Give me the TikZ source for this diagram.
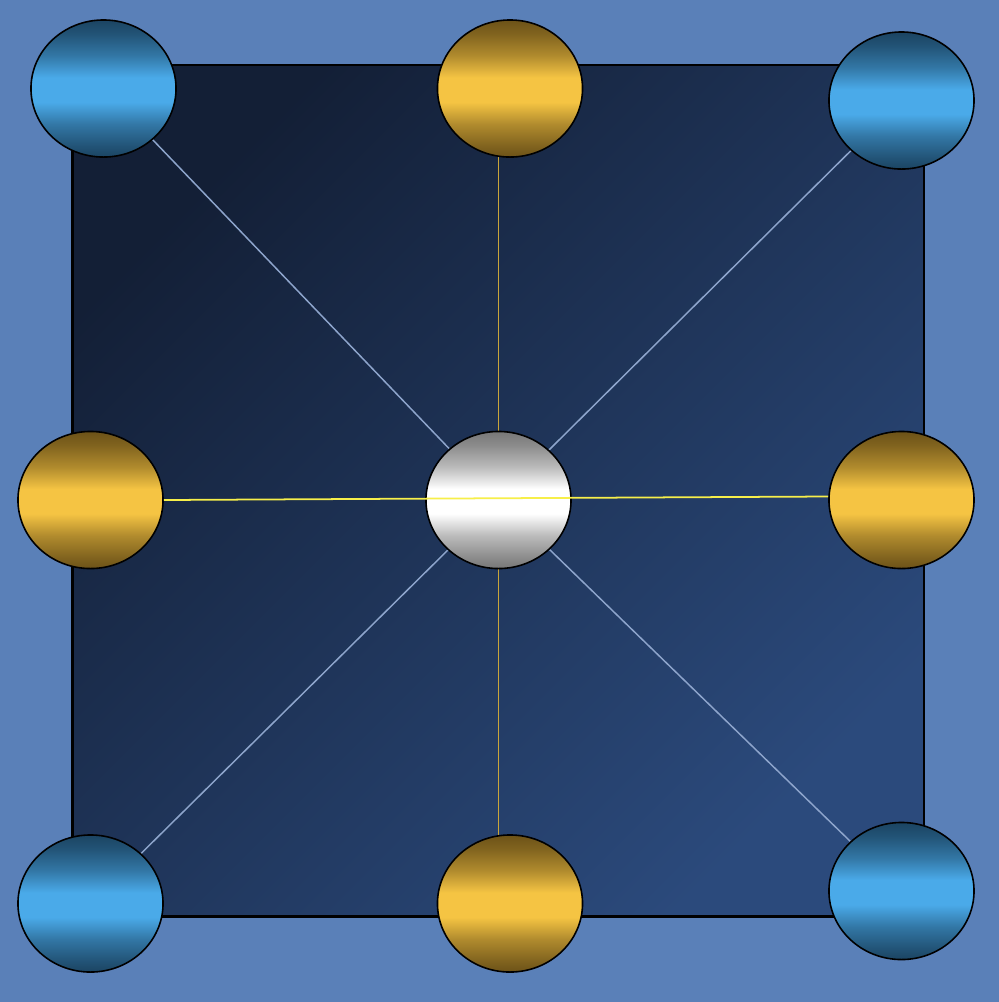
\documentclass[tikz,border=0pt]{standalone}
\usetikzlibrary{shapes.geometric}
\definecolor{bg}{HTML}{5A80B8}
\definecolor{sqdark}{HTML}{131F36}
\definecolor{sqlight}{HTML}{2B4A7C}
\definecolor{bldark}{HTML}{1B4462}
\definecolor{bllight}{HTML}{4AAAE9}
\definecolor{gddark}{HTML}{6C5218}
\definecolor{gdlight}{HTML}{F5C443}
\definecolor{wtdark}{HTML}{777777}
\definecolor{wtlight}{HTML}{FFFFFF}
\definecolor{diagline}{HTML}{8EA5CC}
\definecolor{vertline}{HTML}{C9A53A}
\definecolor{horline}{HTML}{F7EF4A}
\pgfdeclareverticalshading{blueball}{100bp}{color(0bp)=(bldark); color(25bp)=(bldark); color(29bp)=(bldark!85!bllight); color(37bp)=(bldark!50!bllight); color(45bp)=(bllight); color(54bp)=(bllight); color(62bp)=(bldark!50!bllight); color(70bp)=(bldark!85!bllight); color(75bp)=(bldark); color(100bp)=(bldark)}
\pgfdeclareverticalshading{goldball}{100bp}{color(0bp)=(gddark); color(25bp)=(gddark); color(29bp)=(gddark!85!gdlight); color(37bp)=(gddark!50!gdlight); color(45bp)=(gdlight); color(54bp)=(gdlight); color(62bp)=(gddark!50!gdlight); color(70bp)=(gddark!85!gdlight); color(75bp)=(gddark); color(100bp)=(gddark)}
\pgfdeclareverticalshading{whiteball}{100bp}{color(0bp)=(wtdark); color(25bp)=(wtdark); color(29bp)=(wtdark!85!wtlight); color(37bp)=(wtdark!50!wtlight); color(45bp)=(wtlight); color(54bp)=(wtlight); color(62bp)=(wtdark!50!wtlight); color(70bp)=(wtdark!85!wtlight); color(75bp)=(wtdark); color(100bp)=(wtdark)}
\pgfdeclarelayer{back}
\pgfsetlayers{back,main}
\tikzset{
  ballbase/.style={ellipse, draw=black, line width=0.45pt, minimum width=1.45cm, minimum height=1.37cm, inner sep=0pt, shade},
  blueb/.style={ballbase, shading=blueball},
  goldb/.style={ballbase, shading=goldball},
  whiteb/.style={ballbase, shading=whiteball},
  diag/.style={draw=diagline, line width=0.42pt},
  vert/.style={draw=vertline, line width=0.5pt},
  hor/.style={draw=horline, line width=0.5pt}
}
\begin{document}
\begin{tikzpicture}[x=0.01cm,y=-0.01cm]
\useasboundingbox (0,0) rectangle (999,1002);
\node[blueb] (tl) at (103.5,88.5) {};
\node[goldb] (tm) at (510,88.5) {};
\node[blueb] (tr) at (901.5,100.5) {};
\node[goldb] (ml) at (90.5,500) {};
\node[whiteb] (c) at (498.5,500) {};
\node[goldb] (mr) at (901.5,500) {};
\node[blueb] (bl) at (90.5,903.5) {};
\node[goldb] (bm) at (510,903.5) {};
\node[blueb] (br) at (901.5,891) {};
\begin{pgfonlayer}{back}
\fill[bg] (0,0) rectangle (999,1002);
\draw[line width=0.6pt, draw=black, top color=sqdark, bottom color=sqlight, shading angle=45] (72.5,65) rectangle (924,916.5);
\draw[diag] (c.center) -- (tl.center);
\draw[diag] (c.center) -- (tr.center);
\draw[diag] (c.center) -- (bl.center);
\draw[diag] (c.center) -- (br.center);
\draw[vert] (c.center) -- (c.center |- tm.center);
\draw[vert] (c.center) -- (c.center |- bm.center);
\end{pgfonlayer}
\draw[hor] (ml.east) -- ([yshift=0.035cm]mr.west);
\end{tikzpicture}
\end{document}
